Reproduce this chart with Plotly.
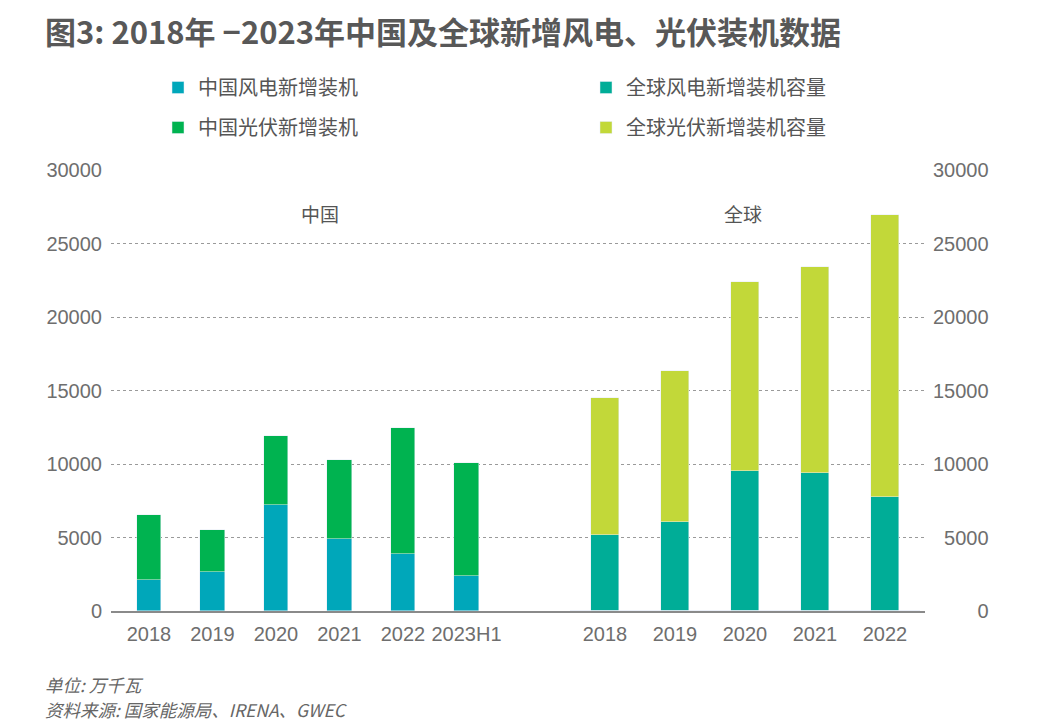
import plotly.graph_objects as go

# ---- data (万千瓦) ----
china_years = ["2018", "2019", "2020", "2021", "2022", "2023H1"]
china_wind = [2100, 2650, 7200, 4900, 3850, 2350]
china_solar = [4430, 2860, 4730, 5350, 8580, 7740]

global_years = ["2018", "2019", "2020", "2021", "2022"]
global_wind = [5170, 6030, 9550, 9410, 7730]
global_solar = [9320, 10320, 12850, 13990, 19210]

y_ticks = [0, 5000, 10000, 15000, 20000, 25000, 30000]

names = ["中国风电新增装机", "中国光伏新增装机", "全球风电新增装机容量", "全球光伏新增装机容量"]
colors = ["#00A7BA", "#00B350", "#00AD97", "#C2D839"]

CJK = "Noto Sans CJK SC"
NUM = "Liberation Sans"

# page body has an 8px margin; work in screen pixels and convert
OX, OY = 8, 8
W, H = 1060 - OX, 727 - OY

# plot area in screen pixels (reference)
PL, PR, PT, PB = 111, 925, 170, 611
L, R, T, B = PL - OX, W - (PR - OX), PT - OY, H - (PB - OY)
plot_w = PR - PL
plot_h = PB - PT


def px_x(x):
    return (x - PL) / plot_w


def px_y(y):
    return (PB - y) / plot_h


fig = go.Figure()
fig.add_trace(go.Bar(x=china_years, y=china_wind, name=names[0], marker_color=colors[0],
                     width=0.39, xaxis="x", yaxis="y", legend="legend", legendgroup="a"))
fig.add_trace(go.Bar(x=china_years, y=china_solar, name=names[1], marker_color=colors[1],
                     width=0.39, xaxis="x", yaxis="y", legend="legend", legendgroup="b"))
fig.add_trace(go.Bar(x=global_years, y=global_wind, name=names[2], marker_color=colors[2],
                     width=0.4, xaxis="x2", yaxis="y", legend="legend2", legendgroup="c"))
fig.add_trace(go.Bar(x=global_years, y=global_solar, name=names[3], marker_color=colors[3],
                     width=0.4, xaxis="x2", yaxis="y", legend="legend2", legendgroup="d"))
# invisible trace to carry the right-hand axis
fig.add_trace(go.Bar(x=global_years, y=[0] * len(global_years), xaxis="x2", yaxis="y2",
                     showlegend=False, hoverinfo="skip", marker_color="rgba(0,0,0,0)"))

# category spacing (px) and first-category centre for each group
s1, c1 = 63.5, 149
s2, c2 = 70.0, 605
x_range = [-(c1 - PL) / s1, -(c1 - PL) / s1 + plot_w / s1]
x2_range = [-(c2 - PL) / s2, -(c2 - PL) / s2 + plot_w / s2]

tick_font = dict(family=NUM, size=20, color="#6e6e6e")
right_text = ["\u2007" * (5 - len(str(v))) + str(v) for v in y_ticks]

legend_common = dict(
    orientation="v", font=dict(family=CJK, size=20, color="#555555"),
    bgcolor="rgba(0,0,0,0)", tracegroupgap=11, itemwidth=30,
    xanchor="left", yanchor="top", traceorder="grouped",
)

xaxis_common = dict(
    showgrid=False, zeroline=False,
    showline=True, linecolor="#8a8a8a", linewidth=1.5,
    ticks="", tickfont=tick_font, ticklabelstandoff=4,
)

fig.update_layout(
    width=W, height=H,
    margin=dict(l=L, r=R, t=T, b=B),
    paper_bgcolor="white", plot_bgcolor="white",
    barmode="stack",
    bargap=0,
    title=dict(
        text="图3: 2018年 −2023年中国及全球新增风电、光伏装机数据",
        font=dict(family=CJK, size=31, color="#585858", weight="bold"),
        x=(45 - OX) / W, xanchor="left", xref="container",
        y=1 - (33 - OY) / H, yanchor="middle", yref="container",
    ),
    xaxis=dict(
        type="category", categoryorder="array", categoryarray=china_years,
        range=x_range, domain=[0, 1], anchor="y", **xaxis_common,
    ),
    xaxis2=dict(
        type="category", categoryorder="array", categoryarray=global_years,
        range=x2_range, overlaying="x", side="bottom", anchor="y", **xaxis_common,
    ),
    yaxis=dict(
        range=[0, 30000], tickvals=y_ticks, ticktext=[str(v) for v in y_ticks],
        showgrid=True, gridcolor="#9a9a9a", griddash="dot", gridwidth=1,
        zeroline=False, showline=False, ticks="",
        tickfont=tick_font, ticklabelstandoff=8,
    ),
    yaxis2=dict(
        range=[0, 30000], tickvals=y_ticks, ticktext=right_text,
        overlaying="y", side="right", anchor="x2",
        showgrid=False, zeroline=False, showline=False, ticks="",
        tickfont=tick_font, ticklabelstandoff=7,
    ),
    legend=dict(x=px_x(158), y=px_y(68), **legend_common),
    legend2=dict(x=px_x(586), y=px_y(68), **legend_common),
    showlegend=True,
)

for text, xc in (("中国", 320), ("全球", 743)):
    fig.add_annotation(text=text, xref="paper", yref="paper", showarrow=False,
                       x=px_x(xc), y=px_y(213), xanchor="center", yanchor="middle",
                       font=dict(family=CJK, size=19, color="#555555"))

footer = ["单位: 万千瓦", "资料来源: 国家能源局、IRENA、GWEC"]
for i, t in enumerate(footer):
    fig.add_annotation(text=f"<i>{t}</i>", xref="paper", yref="paper", showarrow=False,
                       x=px_x(44), xanchor="left", y=px_y(684 + 25 * i), yanchor="middle",
                       borderpad=0, font=dict(family=CJK, size=17.5, color="#666666"))

fig.write_html("out.html")
